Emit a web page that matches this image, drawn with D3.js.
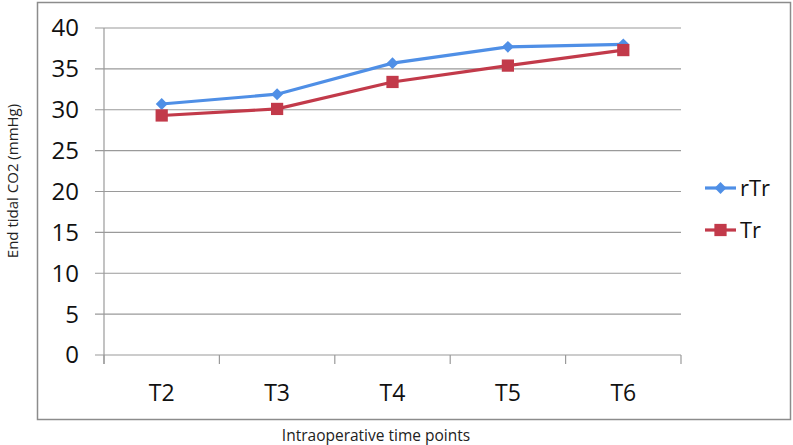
<!DOCTYPE html>
<html>
<head>
<meta charset="utf-8">
<script src="https://cdn.jsdelivr.net/npm/d3@7"></script>
<style>
  body { margin: 0; background: #fff; }
  text { font-family: 'Open Sans', 'Noto Sans', sans-serif; }
</style>
</head>
<body>
<div id="chart"></div>
<script>
const categories = ['T2', 'T3', 'T4', 'T5', 'T6']
const rTr = [30.7, 31.9, 35.7, 37.7, 38.0]
const tr = [29.3, 30.1, 33.4, 35.4, 37.3]
const yTicks = [0, 5, 10, 15, 20, 25, 30, 35, 40]

const blue = '#4f8fe6'
const red = '#c23a4a'
const gridColor = '#9a9a9a'

const svg = d3
  .select('#chart')
  .append('svg')
  .attr('width', 793)
  .attr('height', 445)

// outer frame
svg
  .append('rect')
  .attr('x', 37.5)
  .attr('y', 2.5)
  .attr('width', 753)
  .attr('height', 417)
  .attr('fill', 'none')
  .attr('stroke', '#8c8c8c')
  .attr('stroke-width', 1.5)

const x = d3.scaleBand().domain(categories).range([104, 681])
const y = d3.scaleLinear().domain([0, 40]).range([355, 28])

// gridlines + left ticks
svg
  .append('g')
  .selectAll('line')
  .data(yTicks)
  .enter()
  .append('line')
  .attr('x1', 95)
  .attr('x2', 681)
  .attr('y1', d => y(d))
  .attr('y2', d => y(d))
  .attr('stroke', gridColor)
  .attr('stroke-width', 1.2)

// y axis line
svg
  .append('line')
  .attr('x1', 104)
  .attr('x2', 104)
  .attr('y1', y(40))
  .attr('y2', y(0) + 9)
  .attr('stroke', gridColor)
  .attr('stroke-width', 1.2)

// x ticks at band edges
const edges = categories.map(c => x(c) + x.bandwidth()).concat([x(categories[0])])
svg
  .append('g')
  .selectAll('line')
  .data(edges)
  .enter()
  .append('line')
  .attr('x1', d => d)
  .attr('x2', d => d)
  .attr('y1', y(0))
  .attr('y2', y(0) + 9)
  .attr('stroke', gridColor)
  .attr('stroke-width', 1.2)

// y tick labels
svg
  .append('g')
  .selectAll('text')
  .data(yTicks)
  .enter()
  .append('text')
  .attr('x', 79)
  .attr('y', d => y(d))
  .attr('dy', '0.35em')
  .attr('text-anchor', 'end')
  .attr('font-size', 24)
  .attr('fill', '#111')
  .text(d => d)

// x tick labels
svg
  .append('g')
  .selectAll('text')
  .data(categories)
  .enter()
  .append('text')
  .attr('x', d => x(d) + x.bandwidth() / 2)
  .attr('y', 401)
  .attr('text-anchor', 'middle')
  .attr('font-size', 23)
  .attr('fill', '#111')
  .text(d => d)

// axis titles
svg
  .append('text')
  .attr('x', 376)
  .attr('y', 441)
  .attr('text-anchor', 'middle')
  .attr('font-size', 15.5)
  .attr('fill', '#222')
  .text('Intraoperative time points')

svg
  .append('text')
  .attr('transform', 'translate(18,181) rotate(-90)')
  .attr('text-anchor', 'middle')
  .attr('font-size', 15)
  .attr('fill', '#222')
  .text('End tidal CO2 (mmHg)')

const line = d3
  .line()
  .x((d, i) => x(categories[i]) + x.bandwidth() / 2)
  .y(d => y(d))

const series = [
  { name: 'rTr', values: rTr, color: blue, symbol: d3.symbolSquare, size: 70, rot: 45 },
  { name: 'Tr', values: tr, color: red, symbol: d3.symbolSquare, size: 150, rot: 0 }
]

series.forEach(s => {
  svg
    .append('path')
    .datum(s.values)
    .attr('d', line)
    .attr('fill', 'none')
    .attr('stroke', s.color)
    .attr('stroke-width', 3.2)

  svg
    .append('g')
    .selectAll('path')
    .data(s.values)
    .enter()
    .append('path')
    .attr('d', d3.symbol().type(s.symbol).size(s.size))
    .attr('transform', (d, i) => {
      const px = x(categories[i]) + x.bandwidth() / 2
      return `translate(${px},${y(d)}) rotate(${s.rot})`
    })
    .attr('fill', s.color)
})

// legend
const legend = svg
  .append('g')
  .selectAll('g')
  .data(series)
  .enter()
  .append('g')
  .attr('transform', (d, i) => `translate(705,${188 + i * 42})`)

legend
  .append('line')
  .attr('x1', 0)
  .attr('x2', 31)
  .attr('stroke', d => d.color)
  .attr('stroke-width', 3.2)

legend
  .append('path')
  .attr('d', d => d3.symbol().type(d.symbol).size(d.size)())
  .attr('transform', d => `translate(15.5,0) rotate(${d.rot})`)
  .attr('fill', d => d.color)

legend
  .append('text')
  .attr('x', 35)
  .attr('dy', '0.35em')
  .attr('font-size', 22)
  .attr('fill', '#111')
  .text(d => d.name)
</script>
</body>
</html>
